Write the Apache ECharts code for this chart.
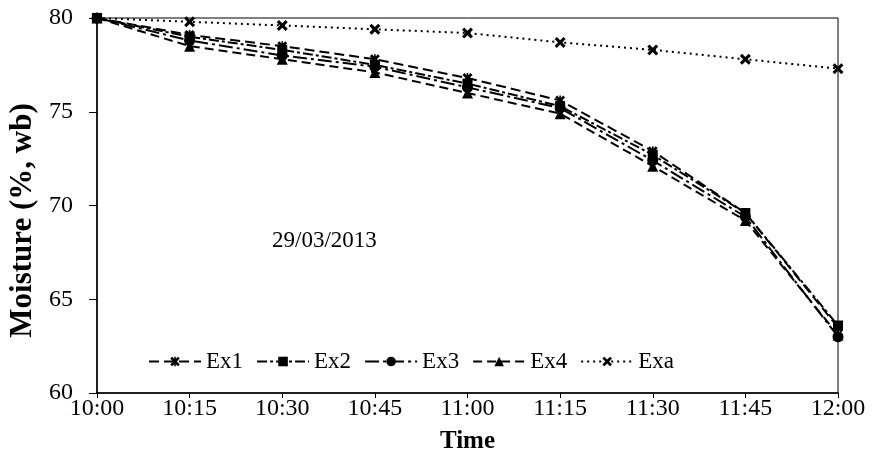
<!DOCTYPE html>
<html><head><meta charset="utf-8">
<script src="https://cdn.jsdelivr.net/npm/echarts@6/dist/echarts.min.js"></script>
<style>html,body{margin:0;padding:0;background:#fff}#c{width:874px;height:454px}</style>
</head><body><div id="c"></div>
<script>
const categories = ['10:00','10:15','10:30','10:45','11:00','11:15','11:30','11:45','12:00'];
const ex1 = [80, 79.1, 78.5, 77.8, 76.8, 75.6, 72.9, 69.6, 63.5];
const ex2 = [80, 79.0, 78.3, 77.5, 76.5, 75.3, 72.7, 69.6, 63.6];
const ex3 = [80, 78.8, 78.0, 77.4, 76.3, 75.2, 72.4, 69.4, 63.0];
const ex4 = [80, 78.5, 77.8, 77.1, 76.0, 74.9, 72.1, 69.2, 63.1];
const exa = [80, 79.8, 79.6, 79.4, 79.2, 78.7, 78.3, 77.8, 77.3];
const seriesNames = ['Ex1','Ex2','Ex3','Ex4','Exa'];
const annotation = '29/03/2013';

const FONT = '"Liberation Serif", "Times New Roman", serif';
const xSym = 'path://M0,2L2,0L5,3L8,0L10,2L7,5L10,8L8,10L5,7L2,10L0,8L3,5Z';
const starSym = 'path://M0,2L2,0L5,3L8,0L10,2L7,5L10,8L8,10L5,7L2,10L0,8L3,5Z M4.2,0L5.8,0L5.8,10L4.2,10Z';

function mk(name, data, symbol, size, dash) {
  return {
    name, type: 'line', data, symbol, symbolSize: size,
    lineStyle: { color: '#000', width: 2, type: dash },
    itemStyle: { color: '#000' },
    emphasis: { disabled: true },
    animation: false
  };
}

const chart = echarts.init(document.getElementById('c'));
chart.setOption({
  animation: false,
  grid: { left: 97, right: 36, top: 18, bottom: 61, show: true, borderColor: '#000', borderWidth: 1,
          containLabel: false, outerBoundsMode: 'none' },
  legend: {
    data: seriesNames,
    left: 143, top: 345,
    itemWidth: 52, itemHeight: 12, itemGap: 13,
    textStyle: { fontFamily: FONT, fontSize: 23, color: '#000' }
  },
  graphic: [{
    type: 'text', left: 272, top: 229,
    style: { text: annotation, font: '23px ' + FONT, fill: '#000' }
  }],
  xAxis: {
    type: 'category', data: categories, boundaryGap: false,
    name: 'Time', nameLocation: 'middle', nameGap: 36,
    nameTextStyle: { fontFamily: FONT, fontSize: 25, fontWeight: 'bold', color: '#000' },
    axisLine: { lineStyle: { color: '#000', width: 1.5 } },
    axisTick: { show: true, length: 5, lineStyle: { color: '#000' } },
    axisLabel: { fontFamily: FONT, fontSize: 24, color: '#000', margin: 4 },
    splitLine: { show: false }
  },
  yAxis: {
    type: 'value', min: 60, max: 80, interval: 5,
    name: 'Moisture (%, wb)', nameLocation: 'middle', nameGap: 55,
    nameTextStyle: { fontFamily: FONT, fontSize: 31, fontWeight: 'bold', color: '#000', padding: [0, 30, 0, 0] },
    axisLine: { show: true, lineStyle: { color: '#000', width: 1.5 } },
    axisTick: { show: true, length: 8, lineStyle: { color: '#000' } },
    axisLabel: { fontFamily: FONT, fontSize: 24, color: '#000', margin: 24 },
    splitLine: { show: false }
  },
  series: [
    mk('Ex1', ex1, starSym, 10, [10, 5]),
    mk('Ex2', ex2, 'rect', 10, [10, 3, 3, 3]),
    mk('Ex3', ex3, 'circle', 11, [14, 4, 3, 4]),
    mk('Ex4', ex4, 'triangle', 11, [9, 5]),
    mk('Exa', exa, xSym, 11, [2, 4])
  ]
});
</script></body></html>
